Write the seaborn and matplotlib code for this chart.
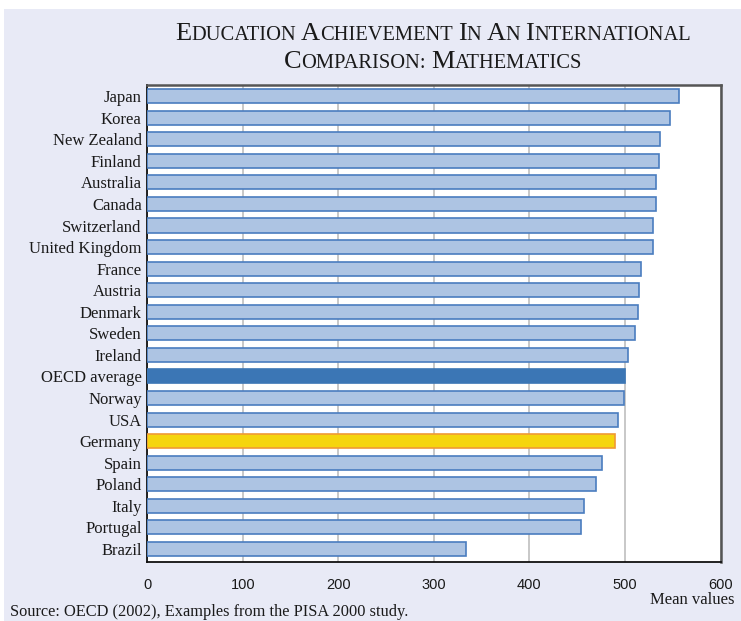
import matplotlib
matplotlib.use("Agg")
import matplotlib.pyplot as plt
from matplotlib.patches import Rectangle
import seaborn as sns
import pandas as pd

# PISA 2000 mathematics mean scores
countries = ["Japan", "Korea", "New Zealand", "Finland", "Australia", "Canada",
             "Switzerland", "United Kingdom", "France", "Austria", "Denmark",
             "Sweden", "Ireland", "OECD average", "Norway", "USA", "Germany",
             "Spain", "Poland", "Italy", "Portugal", "Brazil"]
scores = [557, 547, 537, 536, 533, 533, 529, 529, 517, 515, 514, 510, 503,
          500, 499, 493, 490, 476, 470, 457, 454, 334]
x_ticks = [0, 100, 200, 300, 400, 500, 600]

BG = "#e8eaf6"
BAR = "#adc4e3"
BAR_EDGE = "#4a7dbf"
OECD = "#3b76b5"
GER = "#f5d50e"
GER_EDGE = "#f09a35"

fill = {c: BAR for c in countries}
edge = {c: BAR_EDGE for c in countries}
fill["OECD average"], edge["OECD average"] = OECD, OECD
fill["Germany"], edge["Germany"] = GER, GER_EDGE

df = pd.DataFrame({"country": countries, "score": scores})

sns.set_theme(style="white")
plt.rcParams["font.family"] = ["Liberation Serif", "DejaVu Serif"]

W, H = 741, 621
fig = plt.figure(figsize=(W / 100, H / 100), dpi=100, facecolor="white")
fig.add_artist(Rectangle((4 / W, 0), 1, 1 - 9 / H, transform=fig.transFigure,
                         facecolor=BG, edgecolor="none", zorder=-10))

ax = fig.add_axes([147.3 / W, 1 - 562.3 / H, (720.5 - 147.3) / W, (562.3 - 84.7) / H])
ax.set_facecolor("white")

sns.barplot(data=df, x="score", y="country", hue="country", order=countries,
            hue_order=countries, palette=fill, legend=False, width=0.65,
            saturation=1, orient="h", ax=ax, zorder=3, linewidth=1.2)
for patch, c in zip(ax.patches, countries):
    patch.set_edgecolor(edge[c])
    patch.set_linewidth(1.2)

ax.set_xlim(0, 600)
ax.set_ylim(21.62, -0.53)
ax.set_xticks(x_ticks)
ax.set_xticklabels([str(t) for t in x_ticks], family="Liberation Sans",
                   fontsize=10.5, color="#1a1a1a")
ax.tick_params(axis="x", length=0, pad=11)
ax.tick_params(axis="y", length=0, pad=4, labelsize=12, labelcolor="#1a1a1a")
ax.set_xlabel("")
ax.set_ylabel("")
ax.xaxis.grid(True, color="#c4c4c4", linewidth=1.3, zorder=0)
ax.yaxis.grid(False)
ax.set_axisbelow(True)

for side in ["top", "right"]:
    ax.spines[side].set_color("#555555")
    ax.spines[side].set_linewidth(1.8)
for side in ["left", "bottom"]:
    ax.spines[side].set_color("#111111")
    ax.spines[side].set_linewidth(1.3)

fig.text(734 / W, 1 - 604 / H, "Mean values", ha="right", va="baseline",
         fontsize=12, color="#1a1a1a")
fig.text(10 / W, 1 - 616 / H, "Source: OECD (2002), Examples from the PISA 2000 study.",
         ha="left", va="baseline", fontsize=11.75, color="#1a1a1a")

# Title set in small capitals: first letter of each word large, rest smaller
renderer = fig.canvas.get_renderer()
BIG, SMALL = 19.0, 14.8


def small_caps_line(words, cx_px, base_px):
    pieces = []
    probe_a = fig.text(0, 0, "aa", fontsize=SMALL)
    probe_b = fig.text(0, 0, "a a", fontsize=SMALL)
    space = (probe_b.get_window_extent(renderer).width
             - probe_a.get_window_extent(renderer).width)
    probe_a.remove()
    probe_b.remove()
    for i, w in enumerate(words):
        if i > 0:
            pieces.append((None, space))
        for s, size in ((w[0], BIG), (w[1:], SMALL)):
            if s:
                t = fig.text(0, 1 - base_px / H, s, fontsize=size, va="baseline",
                             color="#1a1a1a")
                pieces.append((t, t.get_window_extent(renderer).width))
    total = sum(p[1] for p in pieces)
    x = cx_px - total / 2
    for t, wdt in pieces:
        if t is not None:
            t.set_x(x / W)
        x += wdt


small_caps_line(["EDUCATION", "ACHIEVEMENT", "IN", "AN", "INTERNATIONAL"], 433, 39.5)
small_caps_line(["COMPARISON:", "MATHEMATICS"], 433, 68.5)

fig.savefig("out.png", dpi=100, facecolor="white")
